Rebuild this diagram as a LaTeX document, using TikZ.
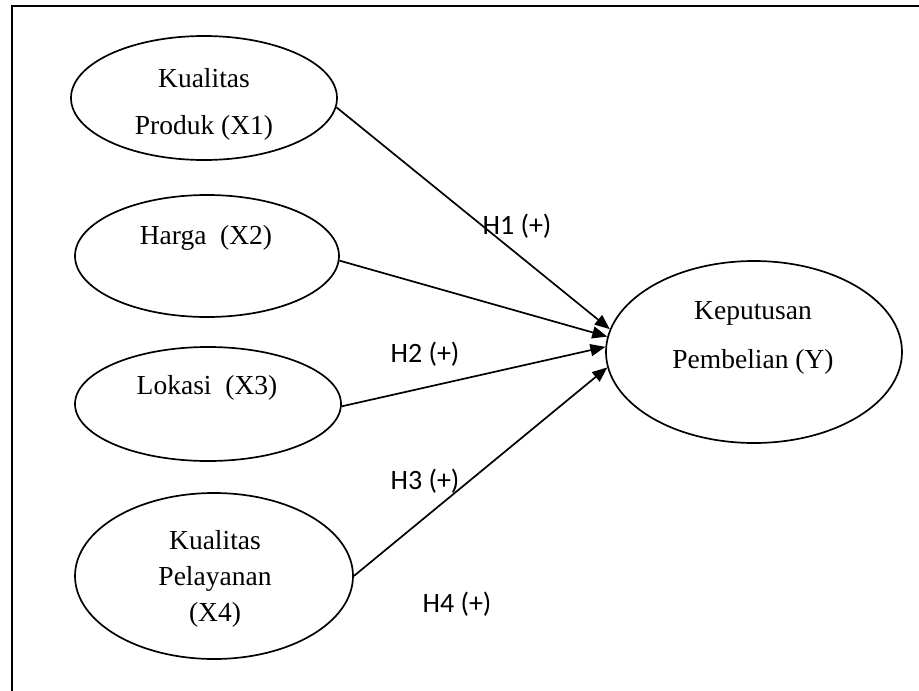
\documentclass[tikz,border=0pt]{standalone}
\usepackage{fontspec}
\setmainfont{Liberation Serif}
\newfontfamily\calib{Carlito}
\usetikzlibrary{shapes.geometric,arrows.meta}
\begin{document}
\begin{tikzpicture}[x=1pt,y=-1pt,
  var/.style={draw, ellipse, line width=1.7pt, inner sep=0pt},
  vtext/.style={align=center, inner sep=0pt},
  hlab/.style={font=\calib\fontsize{28}{30}\selectfont, inner sep=0pt},
  link/.style={line width=1.7pt, -{Triangle[length=15pt,width=12pt]}}]
\useasboundingbox (0,0) rectangle (919,691);
\draw[line width=2pt] (12,700) -- (12,6) -- (930,6);
% ellipses
\node[var, minimum width=266pt, minimum height=124pt] (x1) at (204,98) {};
\node[var, minimum width=264pt, minimum height=122pt] (x2) at (207,256) {};
\node[var, minimum width=266pt, minimum height=114pt] (x3) at (208,404) {};
\node[var, minimum width=278pt, minimum height=166pt] (x4) at (214,576) {};
\node[var, minimum width=296pt, minimum height=182pt] (y) at (754,352) {};
% texts
\node[vtext, font=\fontsize{27.5}{47}\selectfont] (t1) at (204,104) {Kualitas\\Produk (X1)};
\node[vtext, font=\fontsize{27.5}{36}\selectfont] (t2) at (206,238) {Harga\ \ (X2)};
\node[vtext, font=\fontsize{27.5}{36}\selectfont] (t3) at (207,388) {Lokasi\ \ (X3)};
\node[vtext, font=\fontsize{27.5}{36}\selectfont] (t4) at (215,579) {Kualitas\\Pelayanan\\(X4)};
\node[vtext, font=\fontsize{27.5}{49}\selectfont] (ty) at (753,338) {Keputusan\\Pembelian (Y)};
% labels
\node[hlab] (h1) at (517,226) {H1 (+)};
\node[hlab] (h2) at (425,354) {H2 (+)};
\node[hlab] (h3) at (425,481) {H3 (+)};
\node[hlab] (h4) at (457,604) {H4 (+)};
% arrows
\draw[link] (x1.-4) -- (y.171);
\draw[link] (x2.-2) -- (y.174);
\draw[link] (x3.-1) -- (y.178);
\draw[link] (x4.0) -- (y.186);
\end{tikzpicture}
\end{document}
